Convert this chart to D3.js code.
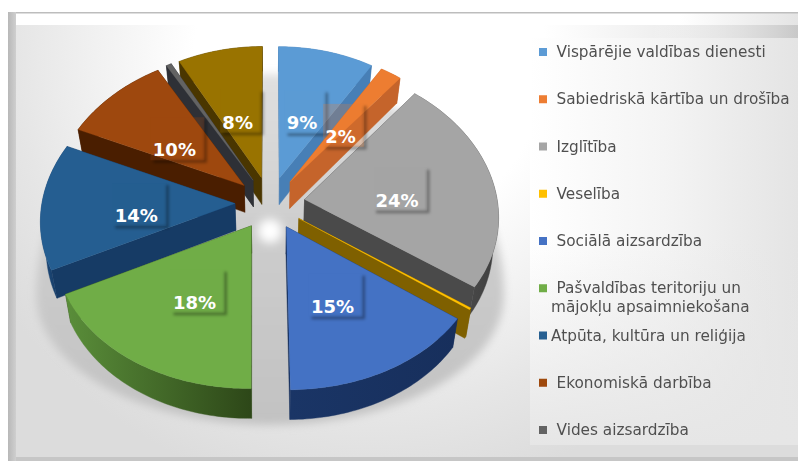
<!DOCTYPE html>
<html><head><meta charset="utf-8">
<script src="https://cdn.jsdelivr.net/npm/d3@7/dist/d3.min.js"></script>
<style>html,body{margin:0;background:#fff}svg{display:block}</style></head>
<body><svg id="c" width="798" height="461"></svg>
<script>
const legendNames = ["Vispārējie valdības dienesti","Sabiedriskā kārtība un drošība","Izglītība","Veselība","Sociālā aizsardzība",["Pašvaldības teritoriju un","mājokļu apsaimniekošana"],"Atpūta, kultūra un reliģija","Ekonomiskā darbība","Vides aizsardzība"];
const values = [9,2,24,0.2,15,18,14,10,0.5,8];
const labels = ["9%","2%","24%","","15%","18%","14%","10%","","8%"];
const topColors = ["#5b9bd5","#ed7d31","#a5a5a5","#ffc000","#4472c4","#70ad47","#255e91","#9e480e","#636363","#997300"];
const cutColors = ["#477fb6","#c5642b","#4a4a4a","#7f6000","#172f5c","#2f4a1a","#163b65","#4a1e00","#2e3036","#4a3600"];
const wallLight = ["#477fb6","#c5642b","#5a5a5a","#7f6000","#1a3566","#5a8e3a","#1c4877","#4a1e00","#2e3036","#4a3600"];
const wallDark  = ["#477fb6","#c5642b","#3e3e3e","#7f6000","#172f5c","#2d4718","#163b65","#4a1e00","#2e3036","#4a3600"];

const svg = d3.select("#c");
const defs = svg.append("defs");
const cx=270, cy=203, R=193, explode=35, p=0.00042, px=0.00055, k=0.755, depth=27;
const rScale = d3.scaleLinear().domain([0,1]).range([0,R]);

function project(u,v,z){const s=1/(1+p*v), sx=1/(1+px*v);return [cx+u*sx*(1-z*0.025), cy-k*v*s+z*depth*s];}
const arcs = d3.pie().sort(null).value(d=>d)(values).map((a,i)=>{
  const m=(a.startAngle+a.endAngle)/2;
  return {...a,i,m,ox:explode*Math.sin(m),oy:explode*Math.cos(m)};
});
const pt=(a,frac,th,z)=>project(a.ox+rScale(frac)*Math.sin(th),a.oy+rScale(frac)*Math.cos(th),z);
const line=d3.line();

function lg(id,x1,y1,x2,y2,stops){const g=defs.append("linearGradient").attr("id",id).attr("x1",x1).attr("y1",y1).attr("x2",x2).attr("y2",y2);
  stops.forEach(s=>g.append("stop").attr("offset",s[0]).attr("stop-color",s[1]).attr("stop-opacity",s[2]===undefined?1:s[2]));return g;}
const rg=defs.append("radialGradient").attr("id","bg").attr("gradientUnits","userSpaceOnUse").attr("cx",370).attr("cy",60).attr("r",440);
[[0,"#ffffff"],[0.4,"#ffffff"],[0.8,"#e6e6e6"],[1,"#dcdcdc"]].forEach(s=>rg.append("stop").attr("offset",s[0]).attr("stop-color",s[1]));
lg("leftBand",0,0,1,0,[[0,"#b8b8b8"],[1,"#cfcfcf"]]);
lg("topBand",0,0,1,0,[[0,"#ffffff"],[0.85,"#ffffff"],[1,"#e4e4e4"]]);
lg("topRight",0,0,1,0,[[0,"#ffffff",0],[1,"#c8c8c8",1]]);
lg("legendBg",0,0,1,0,[[0,"#ffffff"],[0.5,"#f4f4f4"],[1,"#e4e4e4"]]);
lg("legendFade",0,0,0,1,[[0,"#e6e6e6",0],[1,"#e6e6e6",1]]);
lg("shadowG",0,0,0,1,[[0,"#e0e0e0"],[0.45,"#cdcdcd"],[1,"#c2c2c2"]]);
defs.append("filter").attr("id","blur").attr("x","-20%").attr("y","-20%").attr("width","140%").attr("height","140%").append("feGaussianBlur").attr("stdDeviation",4);
defs.append("filter").attr("id","blurS").attr("x","-50%").attr("y","-50%").attr("width","200%").attr("height","200%").append("feGaussianBlur").attr("stdDeviation",5);
defs.append("filter").attr("id","blurB").attr("x","-30%").attr("y","-30%").attr("width","160%").attr("height","160%").append("feGaussianBlur").attr("stdDeviation",1.5);
defs.append("filter").attr("id","soft").append("feGaussianBlur").attr("stdDeviation",0.3);

// panel and its bevel
svg.append("rect").attr("x",8).attr("y",12).attr("width",790).attr("height",449).attr("fill","url(#bg)");
svg.append("rect").attr("x",8).attr("y",13).attr("width",790).attr("height",12).attr("fill","url(#topBand)");
svg.append("rect").attr("x",650).attr("y",25).attr("width",148).attr("height",14).attr("fill","url(#topRight)");
svg.append("rect").attr("x",8).attr("y",12).attr("width",790).attr("height",1.5).attr("fill","#bdbdbd");
svg.append("rect").attr("x",8).attr("y",12).attr("width",8).attr("height",449).attr("fill","url(#leftBand)");
svg.append("rect").attr("x",16).attr("y",457).attr("width",782).attr("height",4).attr("fill","#c6c6c6");
svg.append("rect").attr("x",530).attr("y",38).attr("width",268).attr("height",407).attr("fill","url(#legendBg)");
svg.append("rect").attr("x",530).attr("y",240).attr("width",268).attr("height",205).attr("fill","url(#legendFade)");

// pie shadow
svg.append("path").attr("d","M36,295A234,221 0 0 1 504,295A234,130 0 0 1 36,295Z").attr("fill","url(#shadowG)").attr("filter","url(#blur)");
svg.append("circle").attr("cx",270).attr("cy",231).attr("r",12).attr("fill","#fff").attr("filter","url(#blurS)");

const order=arcs.slice().sort((a,b)=>b.oy-a.oy);
const pieG=svg.append("g");
order.forEach(a=>{
  const g=pieG.append("g");
  const n=Math.max(2,Math.ceil((a.endAngle-a.startAngle)/0.02));
  const ths=d3.range(n+1).map(j=>a.startAngle+(a.endAngle-a.startAngle)*j/n);
  const outerT=ths.map(t=>pt(a,1,t,0)), outerB=ths.map(t=>pt(a,1,t,1));
  const apexT=pt(a,0,0,0), apexB=pt(a,0,0,1);
  const gid="w"+a.i;
  const xs=outerT.map(d=>d[0]);
  const gr=defs.append("linearGradient").attr("id",gid).attr("gradientUnits","userSpaceOnUse").attr("x1",d3.min(xs)).attr("x2",d3.max(xs)).attr("y1",0).attr("y2",0);
  gr.append("stop").attr("offset",0).attr("stop-color",wallLight[a.i]);
  gr.append("stop").attr("offset",1).attr("stop-color",wallDark[a.i]);
  const walls=[
    {pts:[apexT,outerT[0],outerB[0],apexB],fill:cutColors[a.i]},
    {pts:[apexT,outerT[n],outerB[n],apexB],fill:cutColors[a.i]},
    {pts:outerT.concat(outerB.slice().reverse()),fill:`url(#${gid})`}
  ];
  walls.sort((w1,w2)=>d3.mean(w1.pts,d=>d[1])-d3.mean(w2.pts,d=>d[1]));
  walls.forEach(w=>g.append("path").attr("d",line(w.pts)+"Z").attr("fill",w.fill).attr("stroke",w.fill).attr("stroke-width",.4));
  g.append("path").attr("d",line([apexT].concat(outerT))+"Z").attr("fill",topColors[a.i]).attr("stroke",topColors[a.i]).attr("stroke-width",.3);
});

// data labels: see-through box with a shadow on its right and bottom edges
const labelG=svg.append("g");
arcs.filter(a=>labels[a.i]).forEach(a=>{
  const [x,y]=pt(a,0.5,a.m,0);
  const w=labels[a.i].length>2?54:41;
  const g=labelG.append("g");
  const x0=x-w/2+1,x1=x0+w,y0=y-22,y1=y0+43;
  g.append("path").attr("d",line([[x1+1,y0+2],[x1+1,y1+1],[x0+3,y1+1]])).attr("fill","none").attr("stroke","#000").attr("stroke-opacity",.35).attr("stroke-width",3).attr("filter","url(#blurB)");
  g.append("rect").attr("x",x0).attr("y",y0).attr("width",w).attr("height",43).attr("fill",topColors[a.i]).attr("fill-opacity",.25);
  g.append("text").attr("x",x-2).attr("y",y+17).attr("text-anchor","middle").attr("fill","#fff")
    .attr("font-family","DejaVu Sans").attr("font-weight","bold").attr("font-size",18).text(labels[a.i]);
});

// legend
const legY=d3.scalePoint().domain(d3.range(legendNames.length)).range([52,430]);
const legG=svg.append("g").attr("font-family","DejaVu Sans").attr("font-size",15.3).attr("fill","#505050").attr("filter","url(#soft)");
legendNames.forEach((n,i)=>{
  const y=legY(i);
  const tight=i===6;
  legG.append("rect").attr("x",539).attr("y",y-4).attr("width",8).attr("height",8).attr("fill",topColors[i]);
  if(Array.isArray(n)){
    legG.append("text").attr("x",556.5).attr("y",y+5).text(n[0]);
    legG.append("text").attr("x",551).attr("y",y+24).text(n[1]);
  } else legG.append("text").attr("x",tight?551:556.5).attr("y",y+5).text(n);
});
</script></body></html>
